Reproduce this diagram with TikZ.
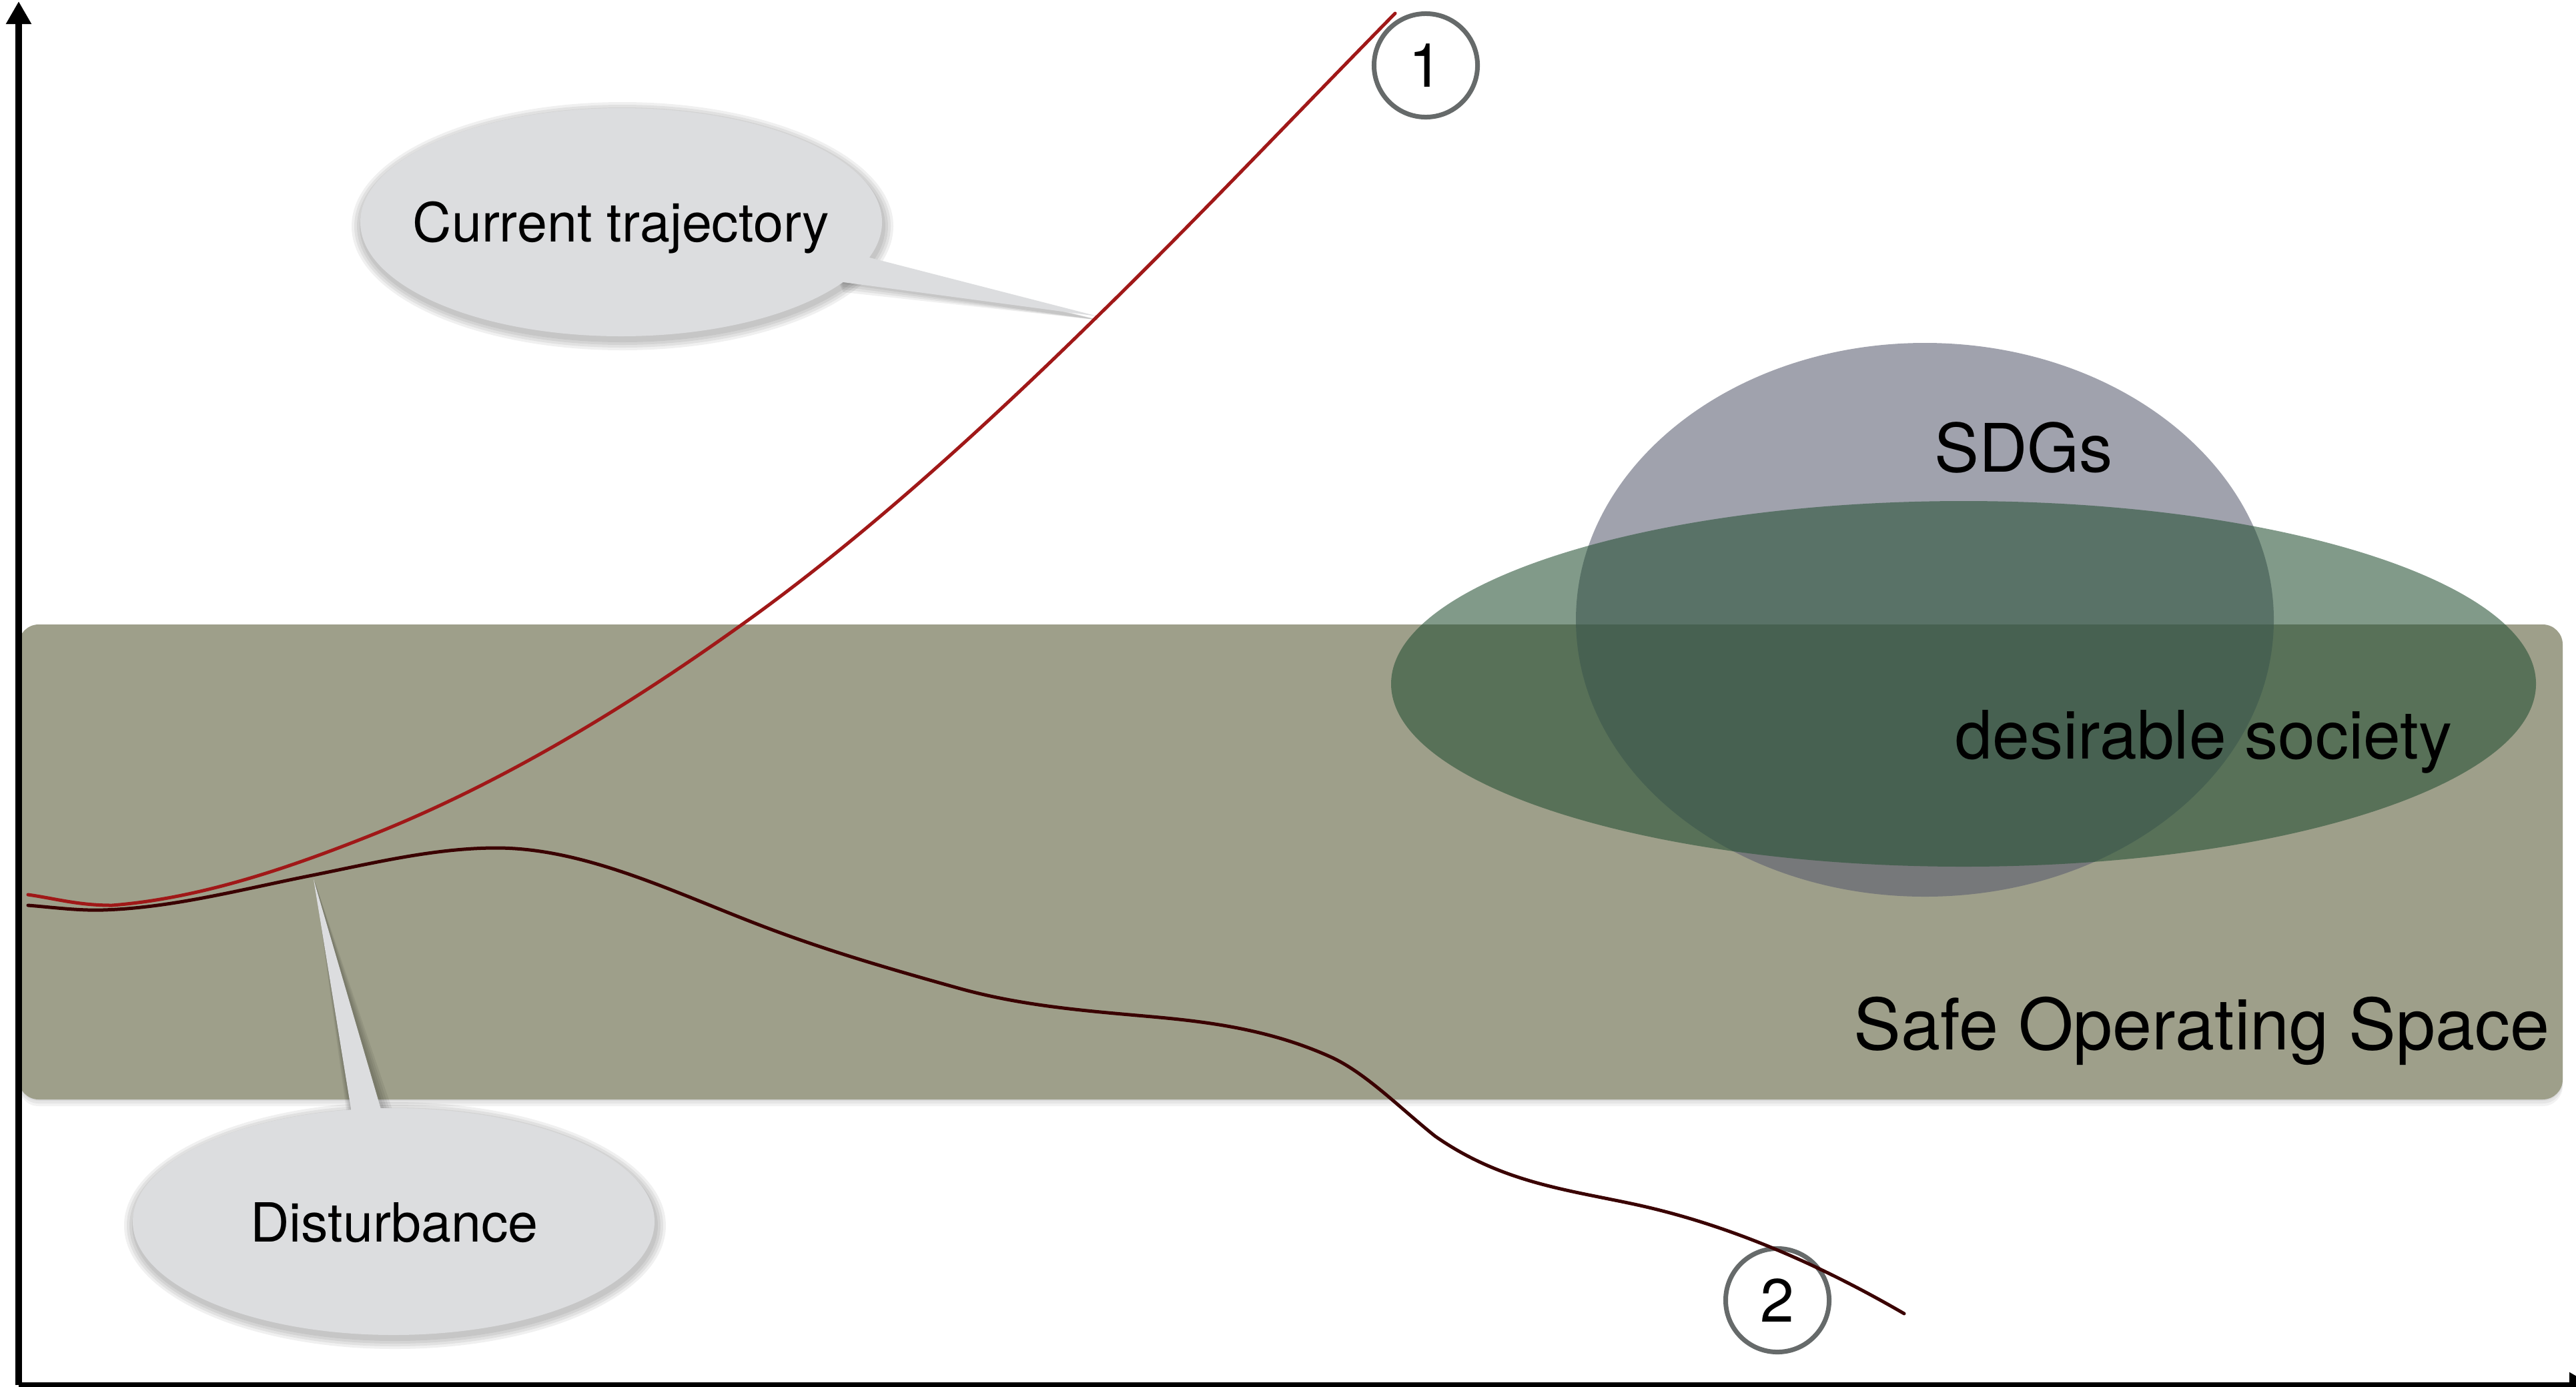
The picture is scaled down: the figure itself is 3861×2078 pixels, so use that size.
\documentclass[tikz,border=0pt]{standalone}
\usepackage{fontspec}
\setmainfont{TeX Gyre Heros}
\usetikzlibrary{arrows.meta}
\definecolor{sos}{RGB}{158,159,138}
\definecolor{sdg}{RGB}{88,92,111}
\definecolor{desg}{RGB}{38,81,53}
\definecolor{callout}{RGB}{220,221,223}
\definecolor{redtraj}{RGB}{160,24,24}
\definecolor{darktraj}{RGB}{58,0,0}
\definecolor{ringgray}{RGB}{102,106,106}
\tikzset{
  calloutfill/.style={fill=callout},
  shadowfill/.style={fill=black, fill opacity=0.06},
  calltext/.style={font=\fontsize{23}{28}\selectfont, anchor=base, inner sep=0pt},
  bigtext/.style={font=\fontsize{28.5}{34}\selectfont, anchor=base, inner sep=0pt},
  numring/.style={circle, draw=ringgray, line width=0.07cm, fill=white, minimum size=1.55cm, inner sep=0pt, font=\fontsize{26}{30}\selectfont},
  traj/.style={line width=0.05cm, line cap=round},
  axisline/.style={line width=0.09cm, -{Triangle[width=0.36cm,length=0.34cm]}}
}
\begin{document}
\begin{tikzpicture}[x=0.01cm,y=-0.01cm]
\useasboundingbox (0,0) rectangle (3861,2078);
\fill[white] (0,0) rectangle (3861,2078);

% safe operating space band (with a faint shadow)
\foreach \g in {2,6,10}{
  \fill[black, fill opacity=0.05, rounded corners=0.3cm] (28,{936+\g}) rectangle (3841,{1648+\g});
}
\fill[sos, rounded corners=0.3cm] (28,936) rectangle (3841,1648);

% SDGs and desirable society ellipses
\fill[sdg, fill opacity=0.57] (2885,929) ellipse [x radius=523, y radius=415];
\fill[desg, fill opacity=0.58] (2943,1025) ellipse [x radius=858, y radius=274];

% texts on the band
\node[bigtext] (sdgs) at (3033,707) {SDGs};
\node[bigtext] (des) at (3303,1137) {desirable society};
\node[bigtext, font=\fontsize{30.2}{36}\selectfont] (sos) at (3300,1573) {Safe Operating Space};

% callout: current trajectory
\foreach \g in {3,7,11,15}{
  \fill[shadowfill] (933,339) ellipse [x radius={391+\g}, y radius={171+\g}];
  \fill[shadowfill] (1305,{386+\g}) -- (1648,480) -- (1264,{423+\g}) -- (1240,390) -- cycle;
}
\fill[calloutfill] (931,333) ellipse [x radius=391, y radius=171];
\fill[calloutfill] (1303,386) -- (1645,474) -- (1264,423) -- (1240,380) -- cycle;
\node[calltext] (ct) at (931,362) {Current trajectory};

% callout: disturbance
\foreach \g in {3,7,11,15}{
  \fill[shadowfill] (592,1837) ellipse [x radius={391+\g}, y radius={170+\g}];
  \fill[shadowfill] ({527-\g/2},1668) -- (472,1322) -- ({574+\g},1666) -- (560,1700) -- cycle;
}
\fill[calloutfill] (590,1831) ellipse [x radius=391, y radius=170];
\fill[calloutfill] (527,1668) -- (470,1318) -- (572,1666) -- (560,1700) -- cycle;
\node[calltext] (dist) at (591,1861) {Disturbance};

% numbered rings
\node[numring] (n1) at (2137,98) {1};
\node[numring] (n2) at (2664,1949) {2};

% trajectory 1 (current trajectory)
\draw[traj, redtraj] (42,1341)
  .. controls (84,1347) and (117,1357) .. (168,1357)
  .. controls (299,1346.5) and (430,1302.4) .. (561,1250)
  .. controls (748,1175) and (935,1064) .. (1122,929)
  .. controls (1296,803.5) and (1471,645) .. (1645,474)
  .. controls (1794,328.3) and (1942,171.7) .. (2091,20);

% trajectory 2 (after disturbance)
\draw[traj, darktraj] (42,1357)
  .. controls (79.3,1360) and (116.7,1365.1) .. (154,1364)
  .. controls (257,1360.9) and (360,1333.6) .. (463,1313)
  .. controls (556.7,1294.3) and (650.3,1271) .. (744,1271)
  .. controls (877.7,1271) and (1011.3,1338.2) .. (1145,1389)
  .. controls (1242,1425.9) and (1339,1453.8) .. (1436,1481)
  .. controls (1533,1508.2) and (1630,1515.3) .. (1727,1524)
  .. controls (1816,1532) and (1905,1544) .. (1994,1584)
  .. controls (2046.3,1607.5) and (2098.7,1661.2) .. (2151,1703)
  .. controls (2252,1773.7) and (2353,1783.8) .. (2454,1806)
  .. controls (2587.3,1835.3) and (2720.7,1891.7) .. (2854,1969);

% axes
\coordinate (origin) at (28,2076);
\coordinate (ytop) at (28,2);
\coordinate (xend) at (3885,2076);
\draw[axisline] (origin) -- (ytop);
\draw[axisline] (origin) -- (xend);
\end{tikzpicture}
\end{document}
